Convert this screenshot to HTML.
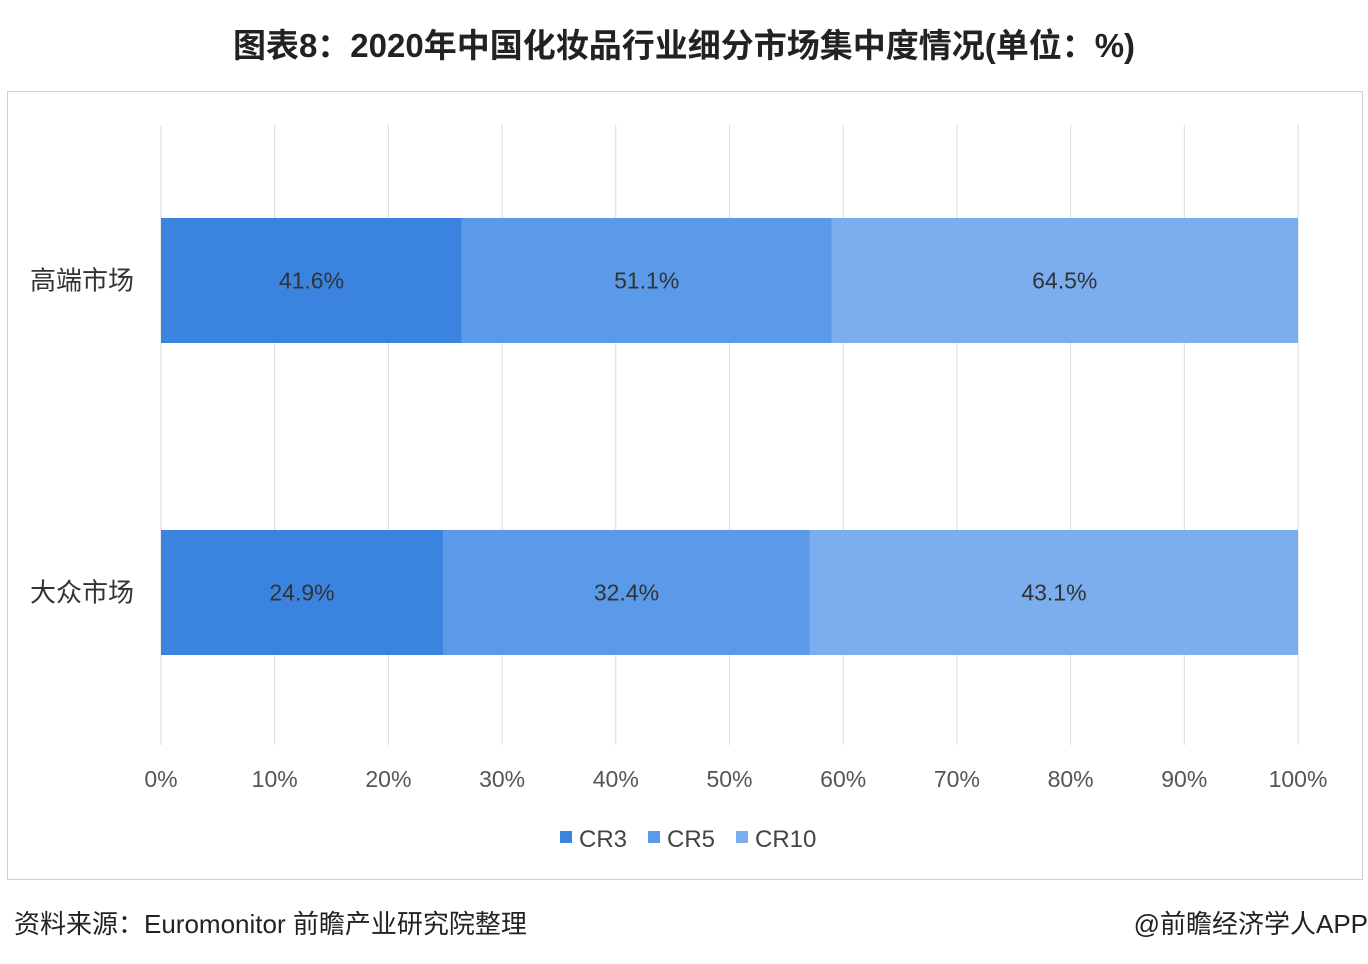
<!DOCTYPE html>
<html><head><meta charset="utf-8">
<style>
html,body{margin:0;padding:0;background:#fff;}
body{width:1368px;height:964px;position:relative;overflow:hidden;font-family:"Liberation Sans","Noto Sans CJK SC",sans-serif;}
#title{position:absolute;top:19px;left:0;width:1368px;text-align:center;font-size:33px;font-weight:bold;color:#222;}
#frame{position:absolute;left:7px;top:91px;width:1356px;height:789px;border:1px solid #d0d0d0;box-sizing:border-box;}
#src{position:absolute;left:14px;top:904px;font-size:26px;color:#222;}
#brand{position:absolute;right:0px;top:904px;font-size:26px;color:#222;}
svg{position:absolute;left:0;top:0;}
</style></head><body>
<div id="title">图表8：2020年中国化妆品行业细分市场集中度情况(单位：%)</div>
<div id="frame"></div>
<svg id="chart" width="1368" height="964"></svg>
<div id="src">资料来源：Euromonitor 前瞻产业研究院整理</div>
<div id="brand">@前瞻经济学人APP</div>
<script>
const categories = ["高端市场","大众市场"];
const seriesNames = ["CR3","CR5","CR10"];
const cr3 = [41.6, 24.9];
const cr5 = [51.1, 32.4];
const cr10 = [64.5, 43.1];
const ticks = [0,10,20,30,40,50,60,70,80,90,100];

const colors = ["#3a84e0","#5a9ae8","#7badef"];
const series = [cr3, cr5, cr10];
const svg = document.getElementById('chart');
const NS = "http://www.w3.org/2000/svg";
const x0 = 161, x1 = 1298, yTop = 125, yBot = 745;
const xs = p => x0 + (x1 - x0) * p / 100;
const bandY = [218, 530], barH = 125;
function mk(tag, attrs){const e=document.createElementNS(NS,tag);for(const k in attrs)e.setAttribute(k,attrs[k]);svg.appendChild(e);return e;}

ticks.forEach(t=>{
  const g = mk('line',{x1:xs(t),x2:xs(t),y1:yTop,y2:yBot,stroke:'#d9d9d9','stroke-width':1});
  
  
  const tx = mk('text',{x:xs(t),y:787,'text-anchor':'middle','font-size':23,fill:'#555','font-family':'Liberation Sans, sans-serif'});
  tx.textContent = t + '%';
  
  
});

categories.forEach((c,i)=>{
  const total = series.reduce((s,a)=>s+a[i],0);
  let cum = 0;
  series.forEach((arr,j)=>{
    const p0 = cum/total*100, p1 = (cum+arr[i])/total*100;
    cum += arr[i];
    const r = mk('rect',{x:xs(p0),y:bandY[i],width:xs(p1)-xs(p0),height:barH,fill:colors[j]});
    
    
    const lt = mk('text',{x:(xs(p0)+xs(p1))/2,y:bandY[i]+barH/2+8,'text-anchor':'middle','font-size':23,fill:'#333'});
    lt.textContent = arr[i].toFixed(1)+'%';
    
    
  });
  const ct = mk('text',{x:82,y:bandY[i]+barH/2+9,'text-anchor':'middle','font-size':26,fill:'#333','font-family':'Liberation Sans, Noto Sans CJK SC, sans-serif'});
  ct.textContent = c;
  
  
});

const legX = [560, 648, 736];
seriesNames.forEach((n,j)=>{
  const r = mk('rect',{x:legX[j],y:831,width:12,height:12,fill:colors[j]});
  
  
  const t = mk('text',{x:legX[j]+19,y:847,'font-size':24,fill:'#444'});
  t.textContent = n;
  
  
});
</script>
</body></html>
